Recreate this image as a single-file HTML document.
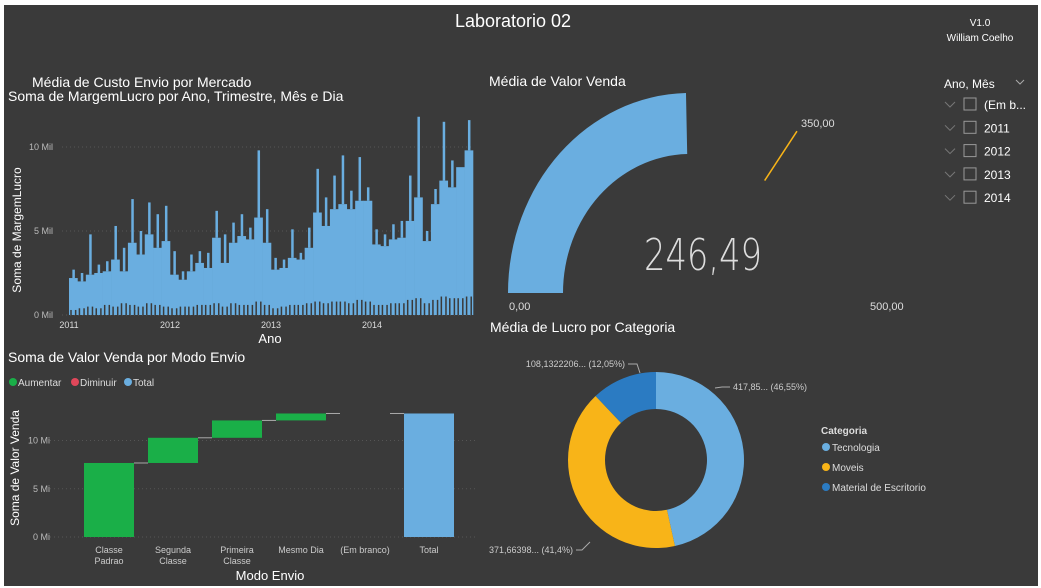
<!DOCTYPE html>
<html><head><meta charset="utf-8"><style>
body{margin:0;background:#fff;width:1041px;height:588px;overflow:hidden;font-family:"Liberation Sans",sans-serif}
#page{position:absolute;left:4px;top:5px;width:1034px;height:581px;background:#3a3a3a}
svg{position:absolute;left:0;top:0}
</style></head><body>
<div id="page"></div>
<svg id="s" width="1041" height="588" xmlns="http://www.w3.org/2000/svg" font-family="Liberation Sans, sans-serif">
<text x="513" y="27" fill="#fff" font-size="18" text-anchor="middle">Laboratorio 02</text>
<text x="980" y="26" fill="#fff" font-size="10" text-anchor="middle">V1.0</text>
<text x="980" y="41" fill="#fff" font-size="10" text-anchor="middle">William Coelho</text>

<text x="32" y="87" fill="#fff" font-size="14">Média de Custo Envio por Mercado</text>
<text x="8" y="101" fill="#fff" font-size="14">Soma de MargemLucro por Ano, Trimestre, Mês e Dia</text>
<text transform="translate(21,230) rotate(-90)" fill="#fff" font-size="12" text-anchor="middle">Soma de MargemLucro</text>
<text x="270" y="343" fill="#fff" font-size="13" text-anchor="middle">Ano</text>
<g id="ts"></g>

<text x="8" y="362" fill="#fff" font-size="14">Soma de Valor Venda por Modo Envio</text>
<g font-size="10" fill="#ddd">
<circle cx="13" cy="382" r="4" fill="#1aaf48"/><text x="18" y="386">Aumentar</text>
<circle cx="75" cy="382" r="4" fill="#e0475a"/><text x="80" y="386">Diminuir</text>
<circle cx="128" cy="382" r="4" fill="#6aaee0"/><text x="133" y="386">Total</text>
</g>
<text transform="translate(19,468) rotate(-90)" fill="#fff" font-size="12" text-anchor="middle">Soma de Valor Venda</text>
<text x="270" y="580" fill="#fff" font-size="13" text-anchor="middle">Modo Envio</text>
<g id="wf"></g>

<text x="489" y="86" fill="#fff" font-size="14">Média de Valor Venda</text>
<g id="gauge"></g>

<text x="490" y="332" fill="#fff" font-size="14">Média de Lucro por Categoria</text>
<g id="donut"></g>
<g font-size="10" fill="#ddd">
<text x="821" y="434" font-weight="bold" font-size="10">Categoria</text>
<circle cx="826" cy="447" r="4" fill="#6aaee0"/><text x="832" y="451">Tecnologia</text>
<circle cx="826" cy="467" r="4" fill="#f8b418"/><text x="832" y="471">Moveis</text>
<circle cx="826" cy="487" r="4" fill="#2b7bc2"/><text x="832" y="491">Material de Escritorio</text>
</g>

<g font-size="12" fill="#fff">
<text x="944" y="88">Ano, Mês</text>
<path d="M1016 80 l4 4 l4 -4" stroke="#aaa" fill="none"/>
<g id="slicer"></g>
</g>
</svg>
<script>
const NS="http://www.w3.org/2000/svg";
function mk(tag,attrs,parent){const e=document.createElementNS(NS,tag);for(const k in attrs)e.setAttribute(k,attrs[k]);parent.appendChild(e);return e;}

// ---- time series (monthly peaks / typical levels, Mil) ----
const tsYears=["2011","2012","2013","2014"];
const tsPeak=[2.7,2.5,4.8,3.0,3.2,5.3,4.0,6.9,5.0,6.7,6.0,6.5,3.8,2.6,3.6,3.8,3.7,6.2,4.8,5.5,6.0,5.2,9.8,6.3,3.4,3.3,5.1,3.7,5.2,8.7,7.0,8.3,9.5,7.4,9.4,7.6,5.1,4.8,5.4,5.6,8.3,11.8,5.0,7.5,11.5,9.2,8.8,11.6];
const tsTypical=[2.2,2.0,2.4,2.5,2.6,3.3,2.6,4.3,3.6,4.8,4.0,4.4,2.4,2.1,2.6,3.1,2.8,4.6,3.1,4.3,4.7,4.5,5.8,4.3,2.7,2.8,3.4,3.3,4.0,6.1,5.3,6.3,6.6,6.3,6.8,6.8,4.2,4.1,4.5,4.6,5.6,7.0,4.4,6.6,8.0,7.6,8.8,9.8];
const tsLow=[0.3,0.4,0.5,0.4,0.6,0.5,0.7,0.6,0.5,0.7,0.6,0.5,0.4,0.5,0.5,0.6,0.6,0.7,0.5,0.7,0.6,0.6,0.8,0.6,0.4,0.5,0.6,0.6,0.7,0.8,0.7,0.8,0.8,0.7,0.9,0.8,0.6,0.6,0.7,0.7,0.9,1.0,0.7,0.9,1.1,1.0,1.0,1.1];
const tsTicks=[0,5,10];
const tsX=m=>69+m*(101/12), tsY=v=>315-v*16.8;
(function(){const g=document.getElementById('ts');
tsTicks.forEach(t=>{const l=mk('line',{x1:62,x2:472,y1:tsY(t),y2:tsY(t),stroke:'#555','stroke-dasharray':'1 3'},g);

const tx=mk('text',{x:53,y:tsY(t)+3,fill:'#bbb','font-size':9,'text-anchor':'end'},g);tx.textContent=t+' Mil';
});
tsYears.forEach((y,i)=>{const tx=mk('text',{x:tsX(i*12),y:328,fill:'#ddd','font-size':9,'text-anchor':'middle'},g);tx.textContent=y;
});
const w=101/12;
tsPeak.forEach((p,i)=>{const x=tsX(i);
const r=mk('rect',{x:x,y:tsY(tsTypical[i]),width:w+0.3,height:tsY(0)-tsY(tsTypical[i]),fill:'#6aaee0'},g);

const s=mk('rect',{x:x+w*0.4,y:tsY(p),width:2.5,height:tsY(tsTypical[i])-tsY(p),fill:'#6aaee0'},g);

[0.15,0.7].forEach(o=>{const d=mk('rect',{x:x+w*o,y:tsY(tsLow[i]),width:1.5,height:tsY(0)-tsY(tsLow[i]),fill:'#3a3a3a'},g);
});});
})();

// ---- waterfall ----
const wfCats=[["Classe","Padrao"],["Segunda","Classe"],["Primeira","Classe"],["Mesmo Dia"],["(Em branco)"],["Total"]];
const wfDelta=[7.67,2.61,1.8,0.72,0];
const wfTicks=[0,5,10];
const wfY=v=>537-v*9.65, wfX=i=>109+i*64;
(function(){const g=document.getElementById('wf');
wfTicks.forEach(t=>{const l=mk('line',{x1:50,x2:478,y1:wfY(t),y2:wfY(t),stroke:'#555','stroke-dasharray':'1 3'},g);

const tx=mk('text',{x:50,y:wfY(t)+3,fill:'#bbb','font-size':9,'text-anchor':'end'},g);tx.textContent=t+' Mi';
});
let cum=0;
wfDelta.forEach((d,i)=>{const a=cum;cum+=d;
if(d>0){const r=mk('rect',{x:wfX(i)-25,y:wfY(cum),width:50,height:wfY(a)-wfY(cum),fill:'#1aaf48'},g);
}
const c=mk('line',{x1:wfX(i)+25,x2:wfX(i+1)-25,y1:wfY(cum),y2:wfY(cum),stroke:'#aaa','stroke-width':1},g);
});
const t=mk('rect',{x:wfX(5)-25,y:wfY(cum),width:50,height:wfY(0)-wfY(cum),fill:'#6aaee0'},g);

wfCats.forEach((c,i)=>c.forEach((s,j)=>{const tx=mk('text',{x:wfX(i),y:553+j*11,fill:'#ccc','font-size':9,'text-anchor':'middle'},g);tx.textContent=s;
}));
})();

// ---- gauge ----
const gaugeValue=[246.49];
const gaugeTarget=[350];
const gaugeRange=[0,500];
(function(){const g=document.getElementById('gauge');
const cx=690,cy=293,ro=[182,200],ri=[127,139];
const pt=(r,f)=>{const a=Math.PI*(1-f);return [cx+r[0]*Math.cos(a),cy-r[1]*Math.sin(a)];};
const f=(gaugeValue[0]-gaugeRange[0])/(gaugeRange[1]-gaugeRange[0]);
const o0=pt(ro,0),o1=pt(ro,f),i1=pt(ri,f),i0=pt(ri,0);
const p=mk('path',{d:`M${o0} A${ro[0]} ${ro[1]} 0 0 1 ${o1} L${i1} A${ri[0]} ${ri[1]} 0 0 0 ${i0} Z`,fill:'#6aaee0'},g);

const ft=(gaugeTarget[0]-gaugeRange[0])/(gaugeRange[1]-gaugeRange[0]);
const t0=pt(ri,ft),t1=pt(ro,ft);
const l=mk('line',{x1:t0[0],y1:t0[1],x2:t1[0],y2:t1[1],stroke:'#f8b418','stroke-width':1.5},g);

const fmt=v=>v.toFixed(2).replace('.',',');
const tl=mk('text',{x:t1[0]+4,y:t1[1]-4,fill:'#ddd','font-size':11},g);tl.textContent=fmt(gaugeTarget[0]);

const v=mk('text',{x:644,y:270,fill:'#ddd','font-size':44,'font-family':'DejaVu Sans, sans-serif','font-weight':'200','textLength':118,'lengthAdjust':'spacingAndGlyphs'},g);v.textContent=fmt(gaugeValue[0]);

const a=mk('text',{x:509,y:310,fill:'#ddd','font-size':11},g);a.textContent=fmt(gaugeRange[0]);

const b=mk('text',{x:870,y:310,fill:'#ddd','font-size':11},g);b.textContent=fmt(gaugeRange[1]);

})();

// ---- donut ----
const donutCats=["Tecnologia","Moveis","Material de Escritorio"];
const donutVals=[417.85,371.66398,108.1322206];
const donutLabels=["417,85... (46,55%)","371,66398... (41,4%)","108,1322206... (12,05%)"];
const donutColors=["#6aaee0","#f8b418","#2b7bc2"];
(function(){const g=document.getElementById('donut');
const cx=656,cy=460,R=88,r=51,tot=donutVals.reduce((a,b)=>a+b,0);
const P=(rad,f)=>[cx+rad*Math.sin(2*Math.PI*f),cy-rad*Math.cos(2*Math.PI*f)];
let acc=0;
donutVals.forEach((v,i)=>{const f0=acc/tot;acc+=v;const f1=acc/tot;const lg=(f1-f0)>0.5?1:0;
const a=P(R,f0),b=P(R,f1),c=P(r,f1),d=P(r,f0);
const p=mk('path',{d:`M${a} A${R} ${R} 0 ${lg} 1 ${b} L${c} A${r} ${r} 0 ${lg} 0 ${d} Z`,fill:donutColors[i]},g);
});
const lab=[[[715,388],[722,387],[730,387],'start',733,390],[[590,542],[582,550],[576,550],'end',573,553],[[640,373],[637,364],[628,364],'end',625,367]];
lab.forEach((L,i)=>{const pl=mk('polyline',{points:`${L[0]} ${L[1]} ${L[2]}`,stroke:'#aaa',fill:'none'},g);

const t=mk('text',{x:L[4],y:L[5],fill:'#ccc','font-size':9,'text-anchor':L[3]},g);t.textContent=donutLabels[i];
});
})();

// ---- slicer ----
const slicerItems=["(Em b...","2011","2012","2013","2014"];
(function(){const g=document.getElementById('slicer');
slicerItems.forEach((s,i)=>{const y=104+i*23.3;
const ch=mk('path',{d:`M${945} ${y-2} l5 5 l5 -5`,stroke:'#777',fill:'none'},g);

const cb=mk('rect',{x:964,y:y-6,width:12,height:12,fill:'none',stroke:'#999'},g);

const t=mk('text',{x:984,y:y+5,fill:'#fff','font-size':12},g);t.textContent=s;
});
})();
</script>
</body></html>
